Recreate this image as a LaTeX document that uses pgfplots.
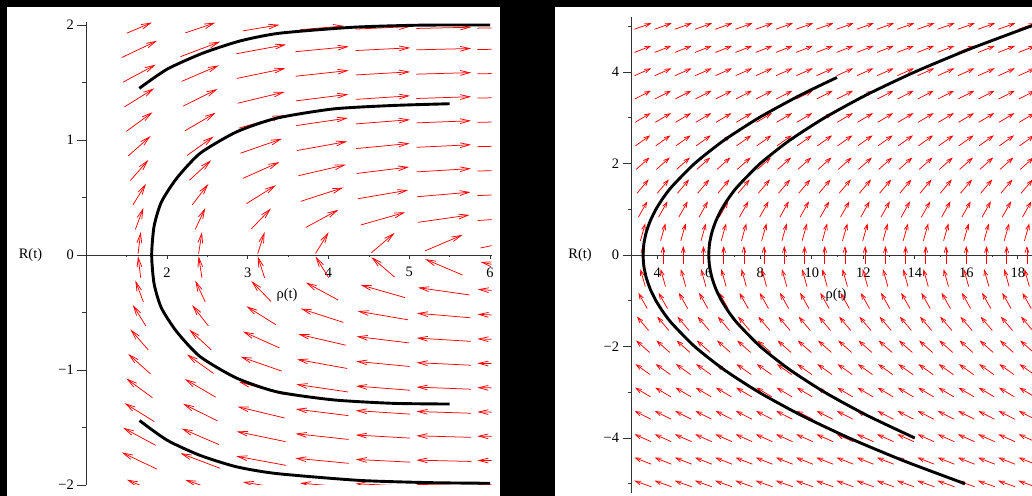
\documentclass[border=0pt]{standalone}
\usepackage{fontspec}
\setmainfont{Liberation Serif}
\usepackage{pgfplots}
\pgfplotsset{compat=1.18}
\usepackage{pgfplotstable}
\usetikzlibrary{arrows.meta}

\pgfplotstableread{
x R u v
1.658 1.975 0.311 0.0927
1.658 1.7895 0.4362 0.1453
1.658 1.5789 0.4037 0.1524
1.658 1.3684 0.3663 0.1596
1.658 1.1579 0.3236 0.1666
1.658 0.9474 0.2753 0.1732
1.658 0.7368 0.2214 0.1791
1.658 0.5263 0.1624 0.1839
1.658 0.3158 0.0993 0.1874
1.658 0.1053 0.0334 0.1892
1.658 -0.1053 -0.0334 0.1892
1.658 -0.3158 -0.0993 0.1874
1.658 -0.5263 -0.1624 0.1839
1.658 -0.7368 -0.2214 0.1791
1.658 -0.9474 -0.2753 0.1732
1.658 -1.1579 -0.3236 0.1666
1.658 -1.3684 -0.3663 0.1596
1.658 -1.5789 -0.4037 0.1524
1.658 -1.7895 -0.4362 0.1453
1.658 -2 -0.311 0.0927
2.412 1.975 0.3722 0.0886
2.412 1.7895 0.4917 0.1309
2.412 1.5789 0.4613 0.1392
2.412 1.3684 0.4249 0.1479
2.412 1.1579 0.3813 0.1568
2.412 0.9474 0.3295 0.1657
2.412 0.7368 0.2691 0.1739
2.412 0.5263 0.2000 0.1810
2.412 0.3158 0.1235 0.1863
2.412 0.1053 0.0418 0.1890
2.412 -0.1053 -0.0418 0.1890
2.412 -0.3158 -0.1235 0.1863
2.412 -0.5263 -0.2000 0.1810
2.412 -0.7368 -0.2691 0.1739
2.412 -0.9474 -0.3295 0.1657
2.412 -1.1579 -0.3813 0.1568
2.412 -1.3684 -0.4249 0.1479
2.412 -1.5789 -0.4613 0.1392
2.412 -1.7895 -0.4917 0.1309
2.412 -2 -0.3722 0.0886
3.166 1.975 0.4522 0.0523
3.166 1.7895 0.6169 0.0797
3.166 1.5789 0.6019 0.0881
3.166 1.3684 0.5814 0.0982
3.166 1.1579 0.5527 0.1103
3.166 0.9474 0.5115 0.1248
3.166 0.7368 0.4514 0.1416
3.166 0.5263 0.3642 0.1600
3.166 0.3158 0.2418 0.1770
3.166 0.1053 0.0856 0.1879
3.166 -0.1053 -0.0856 0.1879
3.166 -0.3158 -0.2418 0.1770
3.166 -0.5263 -0.3642 0.1600
3.166 -0.7368 -0.4514 0.1416
3.166 -0.9474 -0.5115 0.1248
3.166 -1.1579 -0.5527 0.1103
3.166 -1.3684 -0.5814 0.0982
3.166 -1.5789 -0.6019 0.0881
3.166 -1.7895 -0.6169 0.0797
3.166 -2 -0.4522 0.0523
3.92 1.975 0.5451 0.0326
3.92 1.7895 0.6612 0.0442
3.92 1.5789 0.6561 0.0498
3.92 1.3684 0.6487 0.0568
3.92 1.1579 0.6375 0.0659
3.92 0.9474 0.6192 0.0783
3.92 0.7368 0.5873 0.0955
3.92 0.5263 0.5266 0.1198
3.92 0.3158 0.4025 0.1527
3.92 0.1053 0.1617 0.1840
3.92 -0.1053 -0.1617 0.1840
3.92 -0.3158 -0.4025 0.1527
3.92 -0.5263 -0.5266 0.1198
3.92 -0.7368 -0.5873 0.0955
3.92 -0.9474 -0.6192 0.0783
3.92 -1.1579 -0.6375 0.0659
3.92 -1.3684 -0.6487 0.0568
3.92 -1.5789 -0.6561 0.0498
3.92 -1.7895 -0.6612 0.0442
3.92 -2 -0.5451 0.0326
4.674 1.975 0.6757 0.0214
4.674 1.7895 0.6746 0.0238
4.674 1.5789 0.6731 0.0270
4.674 1.3684 0.6708 0.0310
4.674 1.1579 0.6673 0.0364
4.674 0.9474 0.6613 0.0441
4.674 0.7368 0.6498 0.0558
4.674 0.5263 0.6245 0.0750
4.674 0.3158 0.5522 0.1106
4.674 0.1053 0.2862 0.1718
4.674 -0.1053 -0.2862 0.1718
4.674 -0.3158 -0.5522 0.1106
4.674 -0.5263 -0.6245 0.0750
4.674 -0.7368 -0.6498 0.0558
4.674 -0.9474 -0.6613 0.0441
4.674 -1.1579 -0.6673 0.0364
4.674 -1.3684 -0.6708 0.0310
4.674 -1.5789 -0.6731 0.0270
4.674 -1.7895 -0.6746 0.0238
4.674 -2 -0.6757 0.0214
5.428 1.975 0.6789 0.0107
5.428 1.7895 0.6787 0.0119
5.428 1.5789 0.6783 0.0135
5.428 1.3684 0.6777 0.0156
5.428 1.1579 0.6768 0.0184
5.428 0.9474 0.6752 0.0224
5.428 0.7368 0.6720 0.0287
5.428 0.5263 0.6649 0.0398
5.428 0.3158 0.6401 0.0638
5.428 0.1053 0.4634 0.1385
5.428 -0.1053 -0.4634 0.1385
5.428 -0.3158 -0.6401 0.0638
5.428 -0.5263 -0.6649 0.0398
5.428 -0.7368 -0.6720 0.0287
5.428 -0.9474 -0.6752 0.0224
5.428 -1.1579 -0.6768 0.0184
5.428 -1.3684 -0.6777 0.0156
5.428 -1.5789 -0.6783 0.0135
5.428 -1.7895 -0.6787 0.0119
5.428 -2 -0.6789 0.0107
6.182 1.975 0.6790 0.0053
6.182 1.7895 0.6790 0.0059
6.182 1.5789 0.6790 0.0067
6.182 1.3684 0.6789 0.0077
6.182 1.1579 0.6788 0.0092
6.182 0.9474 0.6786 0.0112
6.182 0.7368 0.6780 0.0144
6.182 0.5263 0.6762 0.0200
6.182 0.3158 0.6695 0.0331
6.182 0.1053 0.6002 0.0889
6.182 -0.1053 -0.6002 0.0889
6.182 -0.3158 -0.6695 0.0331
6.182 -0.5263 -0.6762 0.0200
6.182 -0.7368 -0.6780 0.0144
6.182 -0.9474 -0.6786 0.0112
6.182 -1.1579 -0.6788 0.0092
6.182 -1.3684 -0.6789 0.0077
6.182 -1.5789 -0.6790 0.0067
6.182 -1.7895 -0.6790 0.0059
6.182 -2 -0.6790 0.0053
}\leftfield

\pgfplotstableread{
R u v
-5 -0.6587 0.1317
-4.5 -0.6502 0.1445
-4 -0.6389 0.1597
-3.5 -0.6233 0.1781
-3 -0.6015 0.2005
-2.5 -0.5698 0.2279
-2 -0.5226 0.2613
-1.5 -0.4510 0.3006
-1 -0.3429 0.3429
-0.5 -0.1894 0.3787
0 0 0.3934
0.5 0.1894 0.3787
1 0.3429 0.3429
1.5 0.4510 0.3006
2 0.5226 0.2613
2.5 0.5698 0.2279
3 0.6015 0.2005
3.5 0.6233 0.1781
4 0.6389 0.1597
4.5 0.6502 0.1445
5 0.6587 0.1317
}\rightfield

\pgfplotsset{
  mmaple/.style={
    scale only axis,
    axis x line=middle, axis y line=left,
    every inner x axis line/.append style={-},
    every inner y axis line/.append style={-},
    every outer x axis line/.append style={-},
    every outer y axis line/.append style={-},
    axis line style={black!80, line width=0.8bp},
    tick style={black!80, line width=0.8bp},
    tick align=outside,
    major tick length=9bp, minor tick length=4bp,
    xtick style={/pgfplots/major tick length=4bp,/pgfplots/minor tick length=2.5bp},
    hide obscured x ticks=false, hide obscured y ticks=false,
    tick label style={font=\fontsize{14.5}{17}\selectfont},
    /pgf/number format/assume math mode=true,
    label style={font=\fontsize{14.5}{17}\selectfont},
    clip=true,
  },
  fieldarrow/.style={red, line width=0.75bp},
  curve/.style={black, line width=2.9bp, smooth, tension=0.4},
}

\begin{document}
\begin{tikzpicture}[x=1bp,y=1bp]
\useasboundingbox (0,0) rectangle (1032,496);
\fill[black] (0,0) rectangle (1032,496);
\fill[white] (7,0) rectangle (500,489);
\fill[white] (555,0) rectangle (1032,489);

\begin{axis}[mmaple,
  at={(86.25bp,11bp)}, anchor=south west,
  width=405.4bp, height=462.9bp,
  xmin=1, xmax=6.02, ymin=-2.0, ymax=2.025,
  xtick={2,3,4,5,6}, xticklabels={2,3,4,5,6},
  minor xtick={1.5,2.5,3.5,4.5,5.5},
  ytick={-2,-1,0,1,2}, yticklabels={−2,−1,0,1,2},
  minor ytick={-1.5,-0.5,0.5,1.5},
  xlabel={ρ(t)}, ylabel={R(t)},
  xlabel style={at={(axis cs:3.486,0)}, anchor=center, yshift=-40bp},
  ylabel style={at={(axis cs:1,0)}, anchor=center, rotate=-90, xshift=-55.75bp},
]
\addplot[fieldarrow, -{Straight Barb[length=9.5bp,width=4.8bp]},
  quiver={u=\thisrow{u}, v=\thisrow{v}}]
  table[x expr=\thisrow{x}-0.5*\thisrow{u}, y expr=\thisrow{R}-0.5*\thisrow{v}] {\leftfield};
\addplot[curve] coordinates {(1.657,1.449) (2.0,1.615) (2.44,1.754) (2.9,1.86) (3.39,1.928) (4.3,1.98) (5.12,1.998) (6.0,2.0)};
\addplot[curve] coordinates {(1.66,-1.44) (2.0,-1.61) (2.40,-1.74) (2.85,-1.84) (3.35,-1.90) (4.38,-1.96) (5.29,-1.98) (6.0,-1.985)};
\addplot[curve] coordinates {(5.5,1.315) (4.8,1.30) (4.06,1.27) (3.36,1.19) (2.86,1.07) (2.41,0.884) (2.12,0.667) (1.93,0.46) (1.84,0.25) (1.81,0) (1.84,-0.25) (1.93,-0.46) (2.12,-0.667) (2.41,-0.884) (2.86,-1.07) (3.36,-1.19) (4.06,-1.26) (4.8,-1.29) (5.5,-1.296)};
\end{axis}

\begin{axis}[mmaple,
  at={(631.5bp,3.1bp)}, anchor=south west,
  width=400.4bp, height=475.8bp,
  xmin=3, xmax=18.55, ymin=-5.2, ymax=5.2,
  xtick={4,6,8,10,12,14,16,18}, xticklabels={4,6,8,10,12,14,16,18},
  minor xtick={5,7,9,11,13,15,17},
  ytick={-4,-2,0,2,4}, yticklabels={−4,−2,0,2,4},
  minor ytick={-5,-3,-1,1,3,5},
  xlabel={ρ(t)}, ylabel={R(t)},
  xlabel style={at={(axis cs:10.94,0)}, anchor=center, yshift=-40bp},
  ylabel style={at={(axis cs:3,0)}, anchor=center, rotate=-90, xshift=-51.5bp},
]
\pgfplotsinvokeforeach{3.44,4.225,5.01,5.795,6.58,7.365,8.15,8.935,9.72,10.505,11.29,12.075,12.86,13.645,14.43,15.215,16.0,16.785,17.57,18.355}{
\addplot[fieldarrow, -{Straight Barb[length=5.5bp,width=3.8bp]},
  quiver={u=\thisrow{u}, v=\thisrow{v}}]
  table[x expr={#1-0.5*\thisrow{u}}, y expr={\thisrow{R}-0.5*\thisrow{v}}] {\rightfield};
}
\addplot[curve] coordinates {(15.95,-5) (13.575,-4.5) (11.45,-4) (9.575,-3.5) (7.95,-3) (6.575,-2.5) (5.45,-2) (4.575,-1.5) (4.231,-1.25) (3.95,-1) (3.731,-0.75) (3.575,-0.5) (3.481,-0.25) (3.45,0) (3.481,0.25) (3.575,0.5) (3.731,0.75) (3.95,1) (4.231,1.25) (4.575,1.5) (5.45,2) (6.575,2.5) (7.95,3) (9.575,3.5) (10.977,3.88)};
\addplot[curve] coordinates {(14,-4) (12.125,-3.5) (10.5,-3) (9.125,-2.5) (8,-2) (7.125,-1.5) (6.781,-1.25) (6.5,-1) (6.281,-0.75) (6.125,-0.5) (6.031,-0.25) (6,0) (6.031,0.25) (6.125,0.5) (6.281,0.75) (6.5,1) (6.781,1.25) (7.125,1.5) (8,2) (9.125,2.5) (10.5,3) (12.125,3.5) (14,4) (16.125,4.5) (18.5,5) (19.52,5.2)};
\end{axis}
\end{tikzpicture}
\end{document}
